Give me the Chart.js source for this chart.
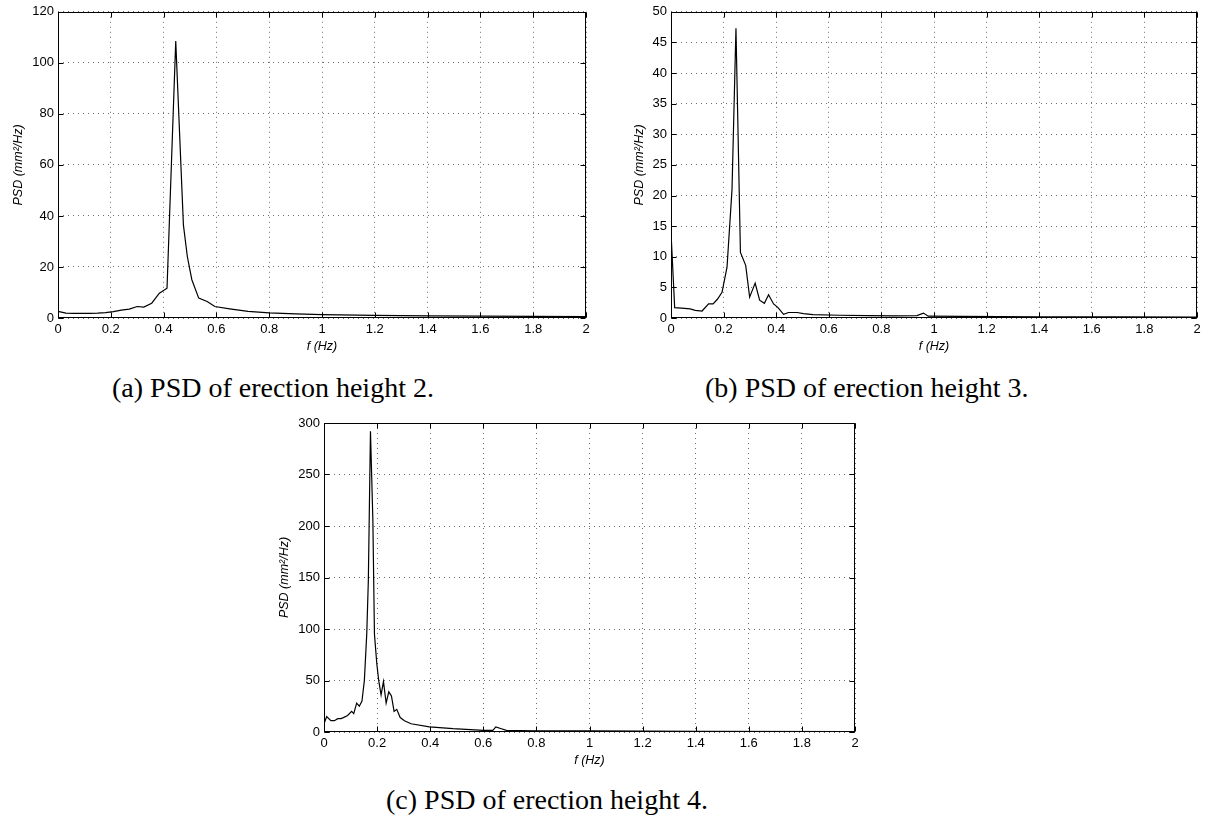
<!DOCTYPE html>
<html>
<head>
<meta charset="utf-8">
<script src="https://cdn.jsdelivr.net/npm/chart.js@4.4.0/dist/chart.umd.min.js"></script>
<style>
html,body{margin:0;padding:0;background:#fff;}
body{position:relative;width:1219px;height:820px;overflow:hidden;}
.box{position:absolute;}
.cap{position:absolute;font-family:"Liberation Serif","DejaVu Serif",serif;font-size:28px;line-height:30px;color:#000;white-space:nowrap;}
</style>
</head>
<body>
<div class="box" style="left:0px;top:0px;"><canvas id="chartA" width="600" height="365"></canvas></div>
<div class="box" style="left:611px;top:0px;"><canvas id="chartB" width="600" height="365"></canvas></div>
<div class="box" style="left:264px;top:410px;"><canvas id="chartC" width="600" height="360"></canvas></div>
<div class="cap" style="left:112px;top:373px;">(a) PSD of erection height 2.</div>
<div class="cap" style="left:705px;top:373px;">(b) PSD of erection height 3.</div>
<div class="cap" style="left:386px;top:785px;">(c) PSD of erection height 4.</div>
<script>
// ---------- data ----------
const xTicks = [0, 0.2, 0.4, 0.6, 0.8, 1, 1.2, 1.4, 1.6, 1.8, 2];

const yTicksA = [0, 20, 40, 60, 80, 100, 120];
const freqA = [0, 0.03, 0.06, 0.09, 0.12, 0.15, 0.18, 0.21, 0.24, 0.27, 0.30, 0.325, 0.355, 0.384, 0.413, 0.446, 0.475, 0.49, 0.507, 0.533, 0.565, 0.594, 0.65, 0.72, 0.80, 0.90, 1.0, 1.2, 1.4, 1.6, 1.8, 2.0];
const psdA  = [2.6, 1.9, 1.8, 1.8, 1.8, 1.9, 2.1, 2.5, 3.1, 3.5, 4.5, 4.3, 5.8, 9.7, 11.7, 108.5, 36.5, 24, 15, 7.8, 6.5, 4.5, 3.6, 2.6, 2.0, 1.6, 1.3, 1.0, 0.85, 0.7, 0.6, 0.55];

const yTicksB = [0, 5, 10, 15, 20, 25, 30, 35, 40, 45, 50];
const freqB = [0, 0.014, 0.04, 0.073, 0.092, 0.118, 0.143, 0.16, 0.177, 0.194, 0.213, 0.232, 0.247, 0.264, 0.284, 0.299, 0.32, 0.337, 0.355, 0.371, 0.39, 0.407, 0.428, 0.447, 0.479, 0.504, 0.54, 0.64, 0.75, 0.85, 0.935, 0.96, 0.978, 1.1, 1.4, 1.7, 2.0];
const psdB  = [14, 1.7, 1.6, 1.5, 1.25, 1.14, 2.3, 2.3, 3.1, 4.2, 8.3, 21, 47.3, 10.7, 8.6, 3.4, 5.7, 2.9, 2.4, 3.8, 2.3, 1.7, 0.6, 0.9, 0.9, 0.7, 0.55, 0.45, 0.4, 0.35, 0.4, 0.8, 0.3, 0.25, 0.2, 0.17, 0.15];

const yTicksC = [0, 50, 100, 150, 200, 250, 300];
const freqC = [0, 0.01, 0.026, 0.039, 0.052, 0.064, 0.073, 0.089, 0.104, 0.112, 0.123, 0.133, 0.143, 0.152, 0.161, 0.167, 0.175, 0.184, 0.19, 0.199, 0.206, 0.215, 0.224, 0.234, 0.244, 0.254, 0.264, 0.274, 0.287, 0.303, 0.328, 0.397, 0.486, 0.6, 0.636, 0.647, 0.668, 0.687, 0.737, 0.8, 1.0, 1.4, 2.0];
const psdC  = [8, 15, 11, 11, 13, 13, 14, 16, 20, 17.8, 28, 25, 30, 50, 95, 147, 292, 206, 95, 66, 50, 36, 49, 28, 39, 35, 20, 22, 14, 11, 8, 5, 3.2, 1.6, 1.6, 4.9, 3.2, 1.6, 1.3, 1.2, 1.0, 0.6, 0.4];

const xTitle = 'f (Hz)';
const yTitle = 'PSD (mm\u00B2/Hz)';

// ---------- drawing ----------
const TICK_FONT = {family: '"Liberation Sans", Arial, sans-serif', size: 13};
const TITLE_FONT = {family: '"Liberation Sans", Arial, sans-serif', size: 12.5, style: 'italic'};

const framePlugin = {
  id: 'matlabFrame',
  afterDraw(chart) {
    const {ctx, chartArea: a, scales: {x, y}} = chart;
    const L = Math.round(a.left) + 0.5, R = Math.round(a.right) - 0.5;
    const T = Math.round(a.top) + 0.5, B = Math.round(a.bottom) - 0.5;
    ctx.save();
    ctx.strokeStyle = '#000';
    ctx.lineWidth = 1;
    ctx.setLineDash([]);
    ctx.beginPath();
    const tl = 5;
    x.ticks.forEach(t => {
      const px = Math.round(x.getPixelForValue(t.value)) + 0.5;
      ctx.moveTo(px, B); ctx.lineTo(px, B - tl);
      ctx.moveTo(px, T); ctx.lineTo(px, T + tl);
    });
    y.ticks.forEach(t => {
      const py = Math.round(y.getPixelForValue(t.value)) + 0.5;
      ctx.moveTo(L, py); ctx.lineTo(L + tl, py);
      ctx.moveTo(R, py); ctx.lineTo(R - tl, py);
    });
    ctx.stroke();
    ctx.strokeRect(L, T, R - L, B - T);
    ctx.restore();
  }
};

function fmt(v) { return String(Math.round(v * 10) / 10); }

function build(id, freq, psd, yTicks, P) {
  const pts = freq.map((f, i) => ({x: f, y: psd[i]}));
  new Chart(document.getElementById(id), {
    type: 'line',
    data: {datasets: [{data: pts, borderColor: '#000', borderWidth: 1.2, pointRadius: 0, tension: 0, fill: false}]},
    options: {
      responsive: false,
      animation: false,
      devicePixelRatio: 1,
      layout: {padding: {left: 0, top: P.top, right: P.right, bottom: 0}},
      plugins: {legend: {display: false}, tooltip: {enabled: false}},
      scales: {
        x: {
          type: 'linear', min: xTicks[0], max: xTicks[xTicks.length - 1],
          afterBuildTicks: s => { s.ticks = xTicks.map(v => ({value: v})); },
          afterFit: s => { s.height = P.xAxisH; },
          ticks: {font: TICK_FONT, color: '#000', padding: 4, maxRotation: 0, autoSkip: false, callback: v => fmt(v)},
          grid: {color: '#6e6e6e', lineWidth: 1, drawTicks: false},
          border: {display: false, dash: [1, 4]},
          title: {display: true, text: xTitle, font: TITLE_FONT, color: '#000', padding: {top: 0, bottom: P.xTitlePad}}
        },
        y: {
          type: 'linear', min: yTicks[0], max: yTicks[yTicks.length - 1],
          afterBuildTicks: s => { s.ticks = yTicks.map(v => ({value: v})); },
          afterFit: s => { s.width = P.yAxisW; },
          ticks: {font: TICK_FONT, color: '#000', padding: 4, autoSkip: false, callback: v => fmt(v)},
          grid: {color: '#6e6e6e', lineWidth: 1, drawTicks: false},
          border: {display: false, dash: [1, 4]},
          title: {display: true, text: yTitle, font: TITLE_FONT, color: '#000', padding: {top: P.yTitlePad, bottom: 0}}
        }
      }
    },
    plugins: [framePlugin]
  });
}

build('chartA', freqA, psdA, yTicksA, {top: 10, right: 14, yAxisW: 58, xAxisH: 47, xTitlePad: 11, yTitlePad: 11});
build('chartB', freqB, psdB, yTicksB, {top: 10, right: 14, yAxisW: 60, xAxisH: 47, xTitlePad: 11, yTitlePad: 21});
build('chartC', freqC, psdC, yTicksC, {top: 13, right: 9, yAxisW: 60, xAxisH: 38, xTitlePad: 2, yTitlePad: 13});
</script>
</body>
</html>
